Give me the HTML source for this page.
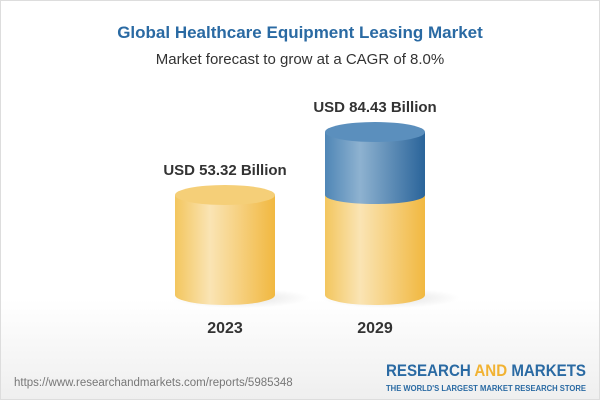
<!DOCTYPE html>
<html><head><style>
body{margin:0;width:600px;height:400px;overflow:hidden;font-family:"Liberation Sans",sans-serif;}
.wrap{position:absolute;left:0;top:0;width:598px;height:398px;border:1px solid #ddd;background:linear-gradient(#fff 0%,#fff 75%,#efefef 100%);}
.t{position:absolute;width:600px;text-align:center;left:0}
</style></head><body>
<div class="wrap"></div>
<div class="t" style="top:23px;font-size:17px;font-weight:bold;color:#2a6aa3">Global Healthcare Equipment Leasing Market</div>
<div class="t" style="top:51px;font-size:15px;color:#333">Market forecast to grow at a CAGR of 8.0%</div>
<svg width="600" height="400" style="position:absolute;left:0;top:0">
<defs>
<linearGradient id="y" x1="0" x2="1"><stop offset="0" stop-color="#f3c65e"/><stop offset="0.35" stop-color="#fae4b4"/><stop offset="1" stop-color="#f1b840"/></linearGradient>
<linearGradient id="b" x1="0" x2="1"><stop offset="0" stop-color="#4f86b6"/><stop offset="0.35" stop-color="#8eb2d0"/><stop offset="1" stop-color="#2a649a"/></linearGradient>
<radialGradient id="sh"><stop offset="0" stop-color="#000" stop-opacity="0.12"/><stop offset="1" stop-color="#000" stop-opacity="0"/></radialGradient>
</defs>
<ellipse cx="240" cy="298" rx="70" ry="10" fill="url(#sh)"/>
<ellipse cx="390" cy="298" rx="70" ry="10" fill="url(#sh)"/>
<path d="M175 195 V295 A50 10 0 0 0 275 295 V195 Z" fill="url(#y)"/>
<ellipse cx="225" cy="195" rx="50" ry="10" fill="#f5cf78"/>
<path d="M325 195 V295 A50 10 0 0 0 425 295 V195 Z" fill="url(#y)"/>
<path d="M325 132 V195 A50 9 0 0 0 425 195 V132 Z" fill="url(#b)"/>
<ellipse cx="375" cy="132" rx="50" ry="10" fill="#5b8fbd"/>
<g font-family="Liberation Sans" font-weight="bold" fill="#333" text-anchor="middle">
<text x="225" y="175" font-size="15">USD 53.32 Billion</text>
<text x="375" y="112" font-size="15">USD 84.43 Billion</text>
<text x="225" y="333" font-size="16">2023</text>
<text x="375" y="333" font-size="16">2029</text>
</g>
<text x="14" y="386" font-family="Liberation Sans" font-size="11.5" fill="#777">https://www.researchandmarkets.com/reports/5985348</text>
<text x="386" y="376" font-family="Liberation Sans" font-size="17" font-weight="bold" fill="#2a6aa3" textLength="200" lengthAdjust="spacingAndGlyphs">RESEARCH <tspan fill="#f1b232">AND</tspan> MARKETS</text>
<text x="386" y="391" font-family="Liberation Sans" font-size="8" font-weight="bold" fill="#2a6aa3" textLength="200" lengthAdjust="spacingAndGlyphs">THE WORLD'S LARGEST MARKET RESEARCH STORE</text>
</svg>
</body></html>
